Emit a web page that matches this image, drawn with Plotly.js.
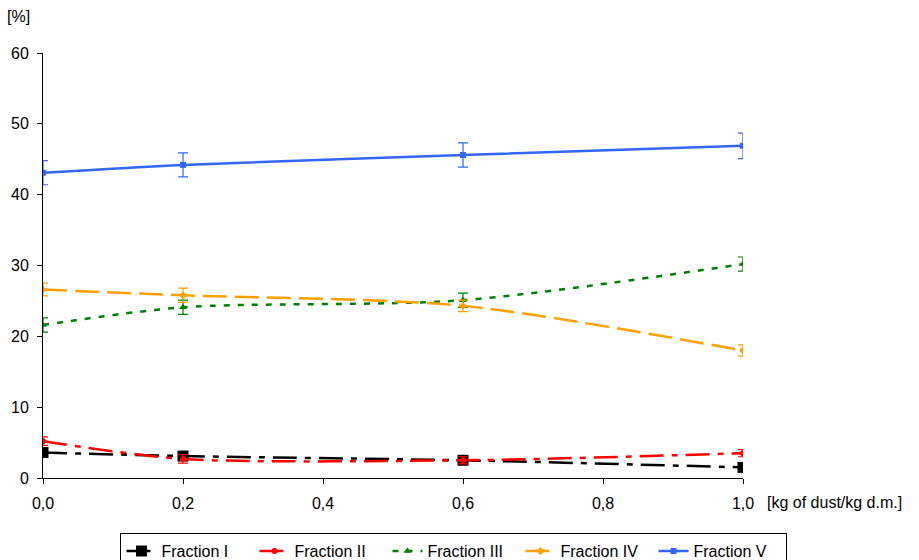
<!DOCTYPE html>
<html><head><meta charset="utf-8">
<script src="https://cdn.plot.ly/plotly-3.0.1.min.js"></script>
<style>body{margin:0;background:#fff}#c{width:919px;height:560px}</style>
</head><body><div id="c"></div>
<script>
const xVals = [0, 0.2, 0.6, 1.0];
const names = ["Fraction I", "Fraction II", "Fraction III", "Fraction IV", "Fraction V"];
const frac1 = [3.6, 3.1, 2.5, 1.5];
const frac2 = [5.2, 2.7, 2.5, 3.5];
const frac3 = [21.6, 24.1, 25.1, 30.2];
const frac4 = [26.6, 25.8, 24.3, 18.0];
const frac5 = [43.1, 44.2, 45.6, 46.9];
const err1 = [0.3, 0.3, 0.3, 0.3];
const err2 = [0.6, 0.6, 0.5, 0.5];
const err3 = [1.0, 1.0, 1.0, 1.0];
const err4 = [0.9, 1.0, 0.8, 0.8];
const err5 = [1.7, 1.7, 1.7, 1.8];
const xTicks = [0, 0.2, 0.4, 0.6, 0.8, 1.0];
const xTickText = ["0,0", "0,2", "0,4", "0,6", "0,8", "1,0"];
const yTicks = [0, 10, 20, 30, 40, 50, 60];

const series = [frac1, frac2, frac3, frac4, frac5];
const errs = [err1, err2, err3, err4, err5];
const colors = ["#000000", "#ff0000", "#008000", "#ffa000", "#3366ff"];
const dashes = ["24px,8px,6px,8px", "24px,8px,6px,8px", "6px,8px", "24px,8px", "solid"];
const symbols = ["square", "circle", "triangle-up", "diamond", "square"];
const sizes = [11, 6, 7, 6, 6];

const traces = series.map((y, i) => ({
  x: xVals, y: y, name: names[i], type: "scatter", mode: "lines+markers",
  line: {color: colors[i], width: 2.5, dash: dashes[i], shape: "spline", smoothing: 0.8},
  marker: {symbol: symbols[i], size: sizes[i], color: colors[i]},
  error_y: {type: "data", array: errs[i], visible: true, color: colors[i], thickness: 1.2, width: 5}
}));

const layout = {
  width: 919, height: 560,
  margin: {l: 43, r: 176, t: 53, b: 82, autoexpand: false},
  paper_bgcolor: "#fff", plot_bgcolor: "#fff",
  font: {family: "Liberation Sans, Arial, sans-serif", size: 16, color: "#000"},
  showlegend: true,
  legend: {orientation: "h", xref: "container", yref: "container", x: 0.494, xanchor: "center", y: 0.048, yanchor: "top",
    bordercolor: "#000", borderwidth: 1, font: {size: 16}, entrywidth: 88, entrywidthmode: "pixels"},
  xaxis: {range: [0, 1.0], tickvals: xTicks, ticktext: xTickText, showgrid: false, zeroline: false,
    showline: true, linecolor: "#000", linewidth: 1, ticks: "outside", ticklen: 5, tickcolor: "#000",
    ticklabelstandoff: 6},
  yaxis: {range: [0, 60], tickvals: yTicks, showgrid: false, zeroline: false,
    showline: true, linecolor: "#000", linewidth: 1, ticks: "outside", ticklen: 5, tickcolor: "#000",
    ticklabelstandoff: 5},
  annotations: [
    {text: "[%]", xref: "paper", yref: "paper", x: -0.055, y: 1.085, xanchor: "left", yanchor: "middle", showarrow: false, font: {size: 16}},
    {text: "[kg of dust/kg d.m.]", xref: "paper", yref: "paper", x: 1.031, y: -0.058, xanchor: "left", yanchor: "middle", showarrow: false, font: {size: 16}}
  ]
};
Plotly.newPlot("c", traces, layout, {displayModeBar: false, staticPlot: true});
</script></body></html>
